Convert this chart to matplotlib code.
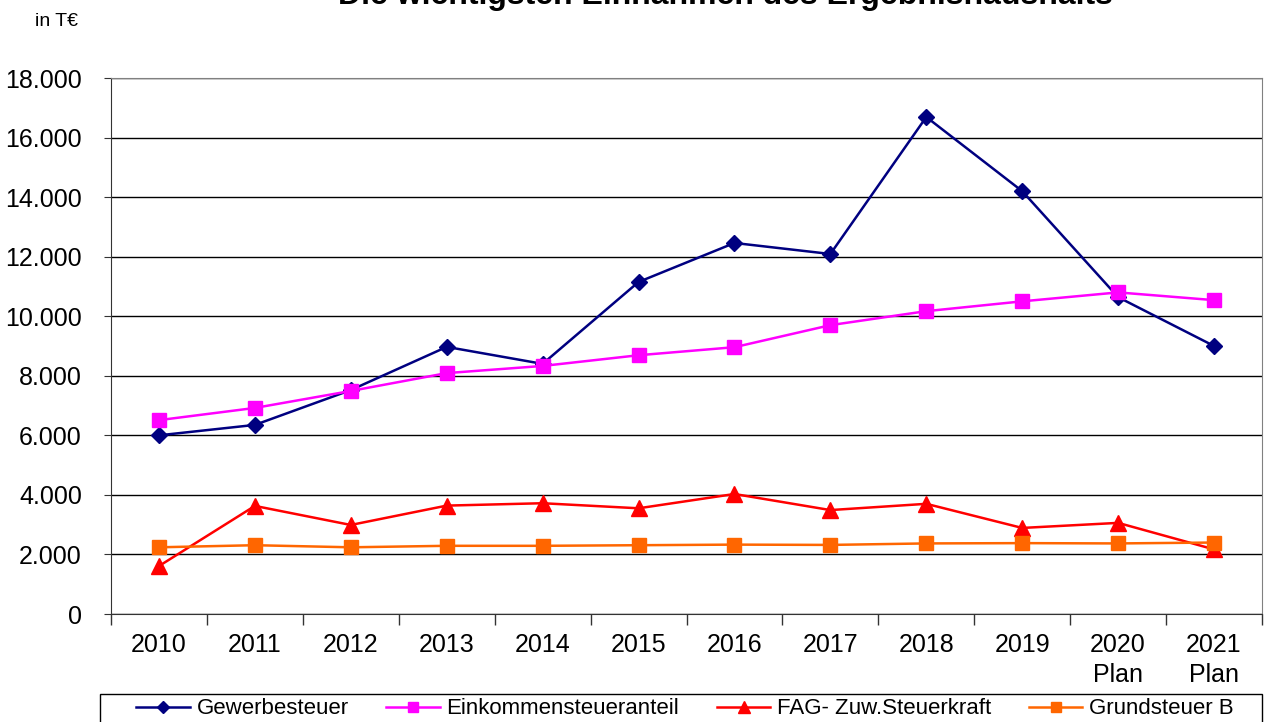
import matplotlib
matplotlib.use("Agg")
import matplotlib.pyplot as plt
from matplotlib.patches import Rectangle
import numpy as np

plt.rcParams['font.family'] = ['Liberation Sans', 'DejaVu Sans']

years = ['2010', '2011', '2012', '2013', '2014', '2015', '2016', '2017',
         '2018', '2019', '2020\nPlan', '2021\nPlan']
gewerbe = [6000, 6350, 7520, 8970, 8400, 11150, 12460, 12090, 16690, 14200, 10640, 9000]
einkommen = [6510, 6920, 7490, 8090, 8330, 8690, 8960, 9700, 10170, 10500, 10800, 10540]
fag = [1610, 3630, 2990, 3640, 3720, 3550, 4030, 3490, 3700, 2890, 3060, 2170]
grund = [2240, 2310, 2240, 2290, 2290, 2310, 2330, 2320, 2370, 2380, 2370, 2400]

fig = plt.figure(figsize=(12.64, 7.22), dpi=100)
ax = fig.add_axes([111/1264, 1-614/722, (1262-111)/1264, (614-78)/722])

x = np.arange(len(years))
ax.plot(x, gewerbe, color='#000080', marker='D', markersize=8, lw=1.8, label='Gewerbesteuer')
ax.plot(x, einkommen, color='#FF00FF', marker='s', markersize=10, lw=1.8, label='Einkommensteueranteil')
ax.plot(x, fag, color='#FF0000', marker='^', markersize=11, lw=1.8, label='FAG- Zuw.Steuerkraft')
ax.plot(x, grund, color='#FF6600', marker='s', markersize=10, lw=1.8, label='Grundsteuer B')

ax.set_xlim(-0.5, 11.5)
ax.set_ylim(0, 18000)
ax.set_yticks(np.arange(0, 18001, 2000))
ax.set_yticklabels(['0'] + [f'{v:,}'.replace(',', '.') for v in range(2000, 18001, 2000)])
ax.set_xticks(x)
ax.set_xticklabels(years, linespacing=1.3)
ax.set_xticks(np.arange(-0.5, 12, 1), minor=True)
ax.tick_params(axis='x', which='major', length=0, pad=14, labelsize=18)
ax.tick_params(axis='x', which='minor', length=8, width=1, color='#333333')
ax.tick_params(axis='y', length=5, pad=16, labelsize=18, color='#333333')
ax.grid(axis='y', color='black', lw=1)
ax.set_axisbelow(True)
for s in ['top', 'right']:
    ax.spines[s].set_color('#808080')
for s in ['left', 'bottom']:
    ax.spines[s].set_color('#333333')

fig.text(35/1264, 1-22/722, 'in T€', fontsize=14, va='center', ha='left')
fig.text(725/1264, 1-4/722, 'Die wichtigsten Einnahmen des Ergebnishaushalts',
         fontsize=23, fontweight='bold', ha='center', va='baseline')

# legend box (bottom edge runs off the picture)
fig.patches.append(Rectangle((100/1264, -0.05), 1162/1264, 0.05 + 1 - 694/722,
                             transform=fig.transFigure, fill=False, edgecolor='black', lw=1))
fig.legend(loc='center', bbox_to_anchor=(685/1264, 1-709/722), ncol=4, fontsize=16,
           frameon=False, handlelength=2.4, handletextpad=0.3, columnspacing=1.7,
           borderpad=0, borderaxespad=0, markerscale=0.75)

fig.savefig('out.png', dpi=100)
